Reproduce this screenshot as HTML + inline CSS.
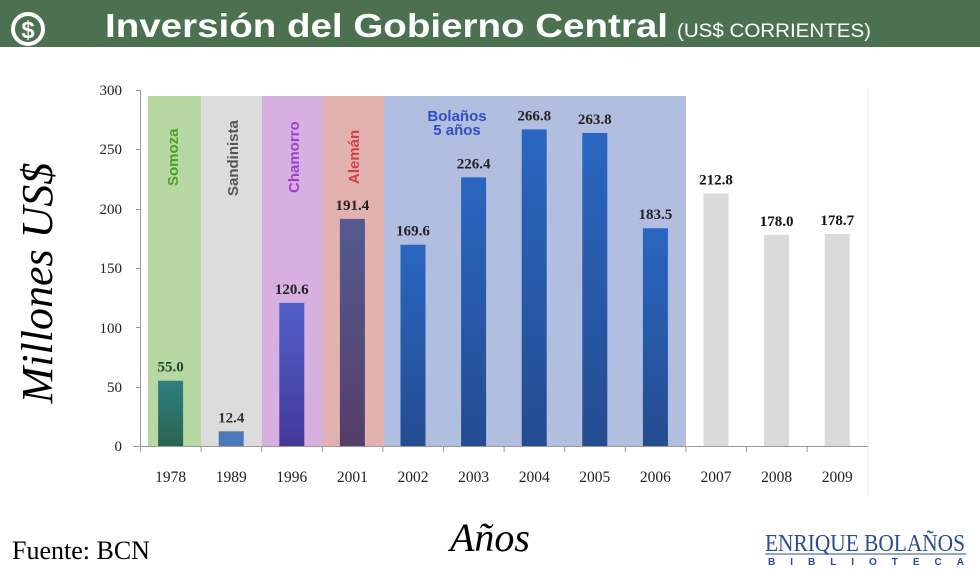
<!DOCTYPE html>
<html><head><meta charset="utf-8"><style>
body{margin:0;width:980px;height:574px;overflow:hidden;background:#fff;font-family:"Liberation Serif",serif}
</style></head><body>
<svg width="980" height="574" xmlns="http://www.w3.org/2000/svg">
<defs>
<linearGradient id="gb" x1="0" y1="0" x2="0" y2="1"><stop offset="0" stop-color="#2a66c0"/><stop offset="1" stop-color="#244c90"/></linearGradient>
<linearGradient id="gg" x1="0" y1="0" x2="0" y2="1"><stop offset="0" stop-color="#2e8080"/><stop offset="1" stop-color="#2a6450"/></linearGradient>
<linearGradient id="gp" x1="0" y1="0" x2="0" y2="1"><stop offset="0" stop-color="#5060c8"/><stop offset="1" stop-color="#44389a"/></linearGradient>
<linearGradient id="gr" x1="0" y1="0" x2="0" y2="1"><stop offset="0" stop-color="#545a90"/><stop offset="1" stop-color="#553e68"/></linearGradient>
</defs>
<rect x="0" y="0" width="980" height="47" fill="#4b7150"/>
<circle cx="28" cy="29" r="15" fill="none" stroke="#fff" stroke-width="4"/>
<text x="28" y="38" font-family="Liberation Sans,sans-serif" font-weight="bold" font-size="24" fill="#fff" text-anchor="middle">$</text>
<text x="105" y="37" font-family="Liberation Sans,sans-serif" font-weight="bold" font-size="33" fill="#fff" textLength="563" lengthAdjust="spacingAndGlyphs">Inversión del Gobierno Central</text>
<text x="677" y="37" font-family="Liberation Sans,sans-serif" font-size="19" fill="#fff" textLength="194" lengthAdjust="spacingAndGlyphs">(US$ CORRIENTES)</text>
<line x1="868" y1="88" x2="868" y2="495" stroke="#eee"/>
<rect x="148" y="96" width="53" height="350" fill="#b7d8a2"/>
<rect x="201" y="96" width="61" height="350" fill="#dcdcdc"/>
<rect x="262" y="96" width="61" height="350" fill="#d6b0e0"/>
<rect x="323" y="96" width="61" height="350" fill="#e3b2b0"/>
<rect x="384" y="96" width="302" height="350" fill="#b2bee0"/>
<g font-family="Liberation Sans,sans-serif" font-weight="bold" font-size="15">
<text transform="translate(178,186) rotate(-90)" fill="#4aa028">Somoza</text>
<text transform="translate(238,196) rotate(-90)" fill="#555">Sandinista</text>
<text transform="translate(299,193) rotate(-90)" fill="#a040d0">Chamorro</text>
<text transform="translate(359,184) rotate(-90)" fill="#d04040">Alemán</text>
<text x="457" y="121" fill="#3050c0" text-anchor="middle">Bolaños</text>
<text x="457" y="135" fill="#3050c0" text-anchor="middle">5 años</text>
</g>
<g font-size="15" fill="#222">
<text x="122" y="95" text-anchor="end">300</text>
<text x="122" y="154" text-anchor="end">250</text>
<text x="122" y="214" text-anchor="end">200</text>
<text x="122" y="273" text-anchor="end">150</text>
<text x="122" y="333" text-anchor="end">100</text>
<text x="122" y="392" text-anchor="end">50</text>
<text x="122" y="451" text-anchor="end">0</text>
</g>
<g stroke="#999" stroke-width="1">
<line x1="140.5" y1="90" x2="140.5" y2="446"/>
<line x1="136" y1="90.5" x2="140" y2="90.5"/><line x1="136" y1="149.5" x2="140" y2="149.5"/><line x1="136" y1="209.5" x2="140" y2="209.5"/><line x1="136" y1="268.5" x2="140" y2="268.5"/><line x1="136" y1="327.5" x2="140" y2="327.5"/><line x1="136" y1="387.5" x2="140" y2="387.5"/>
<line x1="133" y1="446.5" x2="868" y2="446.5"/>
</g>
<g id="bars"></g>
<g font-size="15.5" fill="#222" text-anchor="middle" id="xl"></g>
<g font-size="15" font-weight="bold" text-anchor="middle" id="vl"></g>
<text transform="translate(52,283) rotate(-90)" font-size="44" font-style="italic" text-anchor="middle" fill="#000">Millones US$</text>
<text x="490" y="551" font-size="40" font-style="italic" text-anchor="middle" fill="#000">Años</text>
<text x="12" y="559" font-size="26" fill="#000">Fuente: BCN</text>
<text x="765" y="551" font-size="24" fill="#2a4c94" textLength="200" lengthAdjust="spacingAndGlyphs">ENRIQUE BOLAÑOS</text>
<line x1="765" y1="554" x2="966" y2="554" stroke="#2a4c94"/>
<text x="768" y="565" font-family="Liberation Sans,sans-serif" font-weight="bold" font-size="10" fill="#2a4c94" textLength="196" lengthAdjust="spacing">BIBLIOTECA</text>
<script>
var v=[55.0,12.4,120.6,191.4,169.6,226.4,266.8,263.8,183.5,212.8,178.0,178.7];
var yr=[1978,1989,1996,2001,2002,2003,2004,2005,2006,2007,2008,2009];
var f=["url(#gg)","#4a78b8","url(#gp)","url(#gr)","url(#gb)","url(#gb)","url(#gb)","url(#gb)","url(#gb)","#dadada","#dadada","#dadada"];
var lc=["#1e4a30","#333","#222","#222","#222","#222","#222","#222","#222","#111","#111","#111"];
var s=356/300,ns="http://www.w3.org/2000/svg",b=document.getElementById("bars"),xl=document.getElementById("xl"),vl=document.getElementById("vl"),g=b.parentNode;
for(var i=0;i<12;i++){var cx=170.6+60.6*i,h=v[i]*s;
var r=document.createElementNS(ns,"rect");r.setAttribute("x",cx-12.5);r.setAttribute("y",446-h);r.setAttribute("width",25);r.setAttribute("height",h);r.setAttribute("fill",f[i]);b.appendChild(r);
var t=document.createElementNS(ns,"text");t.setAttribute("x",cx);t.setAttribute("y",482);t.textContent=yr[i];xl.appendChild(t);
var u=document.createElementNS(ns,"text");u.setAttribute("x",cx);u.setAttribute("y",446-h-9);u.setAttribute("fill",lc[i]);u.textContent=v[i].toFixed(1);vl.appendChild(u);
var k=document.createElementNS(ns,"line");var x=140.5+60.6*i;k.setAttribute("x1",x);k.setAttribute("x2",x);k.setAttribute("y1",446);k.setAttribute("y2",452);k.setAttribute("stroke","#999");g.insertBefore(k,b);}
</script>
</svg>
</body></html>
